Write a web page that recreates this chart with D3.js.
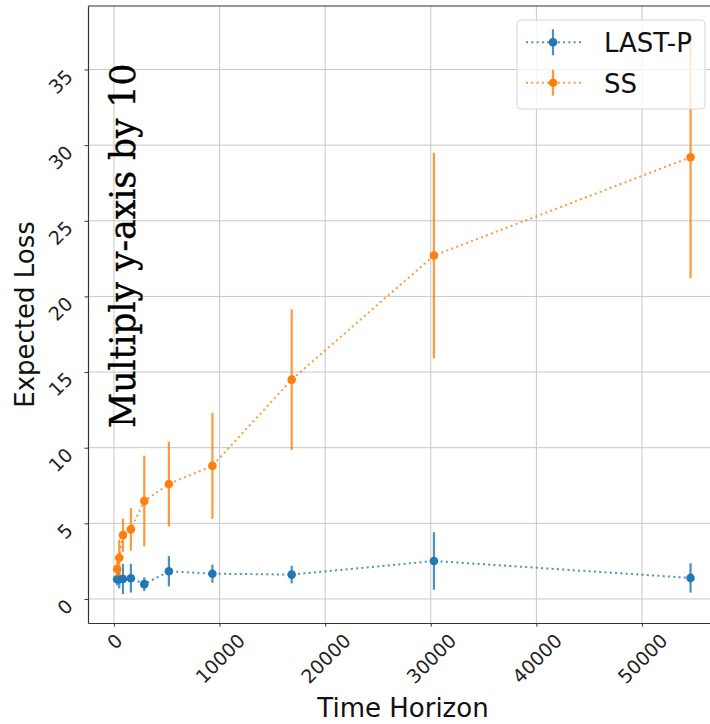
<!DOCTYPE html>
<html>
<head>
<meta charset="utf-8">
<script src="https://cdn.jsdelivr.net/npm/d3@7"></script>
<style>
  html, body { margin: 0; padding: 0; background: #fff; }
  svg { display: block; font-family: "DejaVu Sans", sans-serif; }
</style>
</head>
<body>
<svg id="chart" width="710" height="724"></svg>
<script>
// ---- data ----
const timeHorizon = [300, 500, 850, 1600, 2870, 5200, 9320, 16830, 30300, 54600];
const lastPMean   = [1.30, 1.30, 1.32, 1.37, 0.98, 1.83, 1.67, 1.61, 2.51, 1.39];
const lastPErr    = [0.40, 0.60, 1.00, 0.95, 0.45, 1.00, 0.60, 0.58, 1.90, 0.97];
const ssMean      = [1.98, 2.72, 4.22, 4.60, 6.47, 7.60, 8.80, 14.50, 22.70, 29.20];
const ssErr       = [0.50, 1.20, 1.10, 1.40, 3.00, 2.80, 3.50, 4.65, 6.80, 8.00];
const xTicks = [0, 10000, 20000, 30000, 40000, 50000];
const yTicks = [0, 5, 10, 15, 20, 25, 30, 35];
const seriesNames = ["LAST-P", "SS"];
const seriesColors = ["#1f77b4", "#ff7f0e"];
const xLabel = "Time Horizon";
const yLabel = "Expected Loss";
const note = "Multiply y-axis by 10";

const series = [
  { name: seriesNames[0], color: seriesColors[0], mean: lastPMean, err: lastPErr },
  { name: seriesNames[1], color: seriesColors[1], mean: ssMean, err: ssErr }
];

const svg = d3.select("#chart");
const L = 88, R = 718, T = 6, B = 623;

const x = d3.scaleLinear().domain([-2460, 57200]).range([L, R]);
const y = d3.scaleLinear().domain([-1.59, 39.2]).range([B, T]);

// grid
const grid = svg.append("g");
grid.selectAll("line.gx").data(xTicks).join("line")
  .attr("x1", d => x(d)).attr("x2", d => x(d)).attr("y1", T).attr("y2", B)
  .attr("stroke", "#c8c8c8").attr("stroke-width", 1);
grid.selectAll("line.gy").data(yTicks).join("line")
  .attr("y1", d => y(d)).attr("y2", d => y(d)).attr("x1", L).attr("x2", R)
  .attr("stroke", "#c8c8c8").attr("stroke-width", 1);

// axes via d3
const xAxis = svg.append("g").attr("transform", `translate(0,${B})`)
  .call(d3.axisBottom(x).tickValues(xTicks).tickSize(3.5).tickSizeOuter(0).tickFormat(d3.format("d")));
const yAxis = svg.append("g").attr("transform", `translate(${L},0)`)
  .call(d3.axisLeft(y).tickValues(yTicks).tickSize(3.5).tickSizeOuter(0).tickFormat(d3.format("d")));
[xAxis, yAxis].forEach(g => {
  g.attr("font-family", null).attr("font-size", null);
  g.select(".domain").attr("stroke", "#333").attr("stroke-width", 1.2);
  g.selectAll(".tick line").attr("stroke", "#333").attr("stroke-width", 1);
  g.selectAll(".tick text").style("font-family", "'DejaVu Sans'").style("font-size", "19px").attr("fill", "#222");
});
// top spine
svg.append("line").attr("x1", L).attr("x2", R).attr("y1", T).attr("y2", T)
  .attr("stroke", "#333").attr("stroke-width", 1.2);

// x tick labels rotated 45, bbox centred on tick
xAxis.selectAll(".tick text").each(function() {
  const t = d3.select(this);
  const len = this.getComputedTextLength();
  const h = 14;
  const half = (len + h) / (2 * Math.SQRT2);
  t.attr("text-anchor", "middle").attr("dominant-baseline", "central")
   .attr("x", null).attr("y", null).attr("dy", null)
   .attr("transform", `translate(0,${9 + half}) rotate(-45)`);
});
// y tick labels rotated 45, anchored at right end
yAxis.selectAll(".tick text").each(function() {
  d3.select(this).attr("text-anchor", "end").attr("dominant-baseline", "central")
   .attr("x", null).attr("dy", null)
   .attr("transform", `translate(-19,3) rotate(-45)`);
});

// axis labels
svg.append("text").attr("x", (L + R) / 2).attr("y", 717).attr("text-anchor", "middle")
  .style("font-size", "26px").attr("fill", "#111").text(xLabel);
svg.append("text").attr("transform", `translate(34,${(T + B) / 2}) rotate(-90)`)
  .attr("text-anchor", "middle").style("font-size", "26px").attr("fill", "#111").text(yLabel);

// series
const line = d3.line().x(d => x(d[0])).y(d => y(d[1]));
series.forEach(s => {
  const g = svg.append("g");
  const pts = timeHorizon.map((t, i) => [t, s.mean[i], s.err[i]]);
  g.append("path").datum(pts).attr("d", line).attr("fill", "none")
    .attr("stroke", s.color).attr("stroke-width", 2).attr("stroke-dasharray", "2,3.3")
    .attr("opacity", 0.8);
  g.selectAll("line.err").data(pts).join("line")
    .attr("x1", d => x(d[0])).attr("x2", d => x(d[0]))
    .attr("y1", d => y(d[1] - d[2])).attr("y2", d => y(d[1] + d[2]))
    .attr("stroke", s.color).attr("stroke-width", 2.2).attr("opacity", 0.8);
  g.selectAll("circle").data(pts).join("circle")
    .attr("cx", d => x(d[0])).attr("cy", d => y(d[1])).attr("r", 4.3)
    .attr("fill", s.color);
});

// annotation
svg.append("text").attr("transform", `translate(135,428) rotate(-90)`)
  .style("font-family", "'DejaVu Serif', serif").style("font-size", "34.5px")
  .attr("fill", "#000").attr("stroke", "#000").attr("stroke-width", 0.4)
  .text(note);

// legend
const lg = svg.append("g");
lg.append("rect").attr("x", 517).attr("y", 20).attr("width", 188).attr("height", 89)
  .attr("rx", 4).attr("fill", "#fff").attr("fill-opacity", 0.8)
  .attr("stroke", "#d6d6d6").attr("stroke-width", 1);
const rowY = [42.3, 82.7];
series.forEach((s, i) => {
  const yy = rowY[i];
  lg.append("line").attr("x1", 526).attr("x2", 581).attr("y1", yy).attr("y2", yy)
    .attr("stroke", s.color).attr("stroke-width", 2).attr("stroke-dasharray", "2,3.3").attr("opacity", 0.8);
  lg.append("line").attr("x1", 553).attr("x2", 553).attr("y1", yy - 13).attr("y2", yy + 13)
    .attr("stroke", s.color).attr("stroke-width", 2.2).attr("opacity", 0.8);
  lg.append("circle").attr("cx", 553).attr("cy", yy).attr("r", 4.3).attr("fill", s.color);
  lg.append("text").attr("x", 604).attr("y", yy + 10).style("font-size", "26px").attr("fill", "#111").text(s.name);
});
</script>
</body>
</html>
